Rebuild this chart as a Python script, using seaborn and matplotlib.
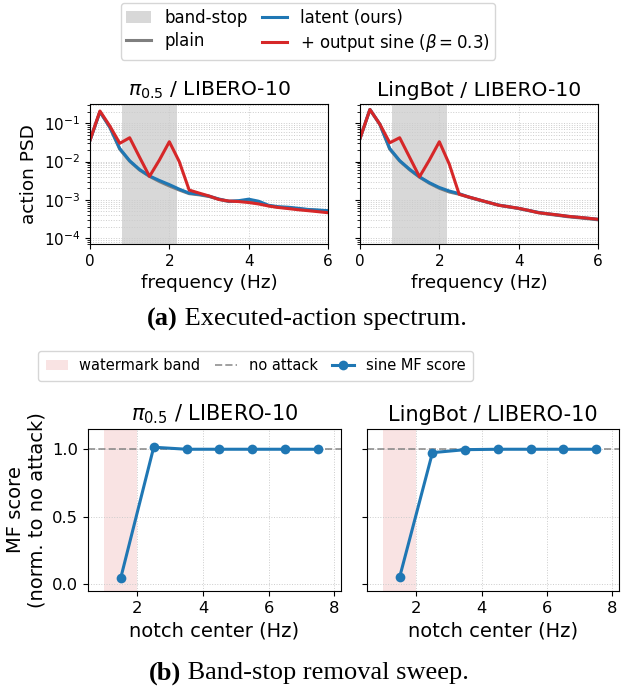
import numpy as np
import pandas as pd
import matplotlib
matplotlib.use("Agg")
import matplotlib.pyplot as plt
import seaborn as sns
from matplotlib.patches import Patch
from matplotlib.lines import Line2D

plt.rcParams["font.family"] = ["DejaVu Sans"]
plt.rcParams["mathtext.fontset"] = "dejavusans"

# ---- (a) executed-action spectrum data ----
freq = [0.0, 0.25, 0.5, 0.75, 1.0, 1.25, 1.5, 1.75, 2.0, 2.25, 2.5, 2.75, 3.0,
        3.25, 3.5, 3.75, 4.0, 4.25, 4.5, 4.75, 5.0, 5.25, 5.5, 5.75, 6.0]

pi05_plain = [0.036, 0.20, 0.078, 0.021, 0.0102, 0.0060, 0.0041, 0.0030, 0.0023, 0.0018,
              0.00145, 0.00135, 0.00122, 0.00103, 0.00090, 0.00092, 0.00098, 0.00088,
              0.00070, 0.00064, 0.00062, 0.00058, 0.00055, 0.00053, 0.00051]
pi05_latent = [0.036, 0.20, 0.080, 0.022, 0.0105, 0.0062, 0.0042, 0.0032, 0.0025, 0.0019,
               0.00150, 0.00140, 0.00125, 0.00105, 0.00092, 0.00095, 0.00104, 0.00092,
               0.00072, 0.00066, 0.00064, 0.00060, 0.00056, 0.00054, 0.00052]
pi05_sine = [0.036, 0.21, 0.085, 0.030, 0.042, 0.013, 0.0041, 0.011, 0.033, 0.010,
             0.0018, 0.0015, 0.00126, 0.00102, 0.00093, 0.00090, 0.00085, 0.00078,
             0.00069, 0.00063, 0.00059, 0.00055, 0.00052, 0.00049, 0.00046]

lingbot_plain = [0.040, 0.23, 0.093, 0.021, 0.0103, 0.0061, 0.0039, 0.0027, 0.0020, 0.0016,
                 0.00140, 0.00116, 0.00098, 0.00084, 0.00072, 0.00065, 0.00059, 0.00052,
                 0.00046, 0.00042, 0.00039, 0.00036, 0.00034, 0.00032, 0.00030]
lingbot_latent = [0.040, 0.23, 0.095, 0.022, 0.0106, 0.0063, 0.0040, 0.0028, 0.0021, 0.0017,
                  0.00145, 0.00118, 0.00100, 0.00085, 0.00073, 0.00066, 0.00060, 0.00053,
                  0.00047, 0.00043, 0.00040, 0.00037, 0.00035, 0.00033, 0.00031]
lingbot_sine = [0.040, 0.23, 0.095, 0.031, 0.042, 0.013, 0.0040, 0.011, 0.033, 0.0086,
                0.0014, 0.00118, 0.00100, 0.00085, 0.00072, 0.00066, 0.00060, 0.00053,
                0.00046, 0.00043, 0.00040, 0.00037, 0.00035, 0.00033, 0.00031]

bandstop = (0.8, 2.2)

# ---- (b) band-stop removal sweep data ----
notch_center = [1.5, 2.5, 3.5, 4.5, 5.5, 6.5, 7.5]
pi05_mf = [0.05, 1.015, 1.0, 1.0, 1.0, 1.0, 1.0]
lingbot_mf = [0.055, 0.975, 0.997, 1.0, 1.0, 1.0, 1.0]
watermark_band = (1.0, 2.0)

models = [r"$\pi_{0.5}$ / LIBERO-10", "LingBot / LIBERO-10"]

BLUE = "#1f77b4"
RED = "#d62728"
GRAY = "#7f7f7f"

# panel (a) text sizes
A_TICK, A_LABEL, A_TITLE, A_LEG = 11, 13.3, 14.6, 12
# panel (b) text sizes
B_TICK, B_LABEL, B_TITLE, B_LEG = 11.8, 14, 15, 10.5

W, H = 631, 690
fig = plt.figure(figsize=(W / 100, H / 100), dpi=100)


def box(x0, y0, x1, y1):
    """Pixel box (top-left origin) -> figure fraction rect."""
    return [x0 / W, 1 - y1 / H, (x1 - x0) / W, (y1 - y0) / H]


ax_a = [fig.add_axes(box(90, 104, 328, 244)), fig.add_axes(box(360, 104, 598, 244))]
ax_b = [fig.add_axes(box(88, 429, 341, 591)), fig.add_axes(box(367, 429, 619, 591))]

spec_sets = [(pi05_plain, pi05_latent, pi05_sine),
             (lingbot_plain, lingbot_latent, lingbot_sine)]

for i, ax in enumerate(ax_a):
    plain, latent, sine = spec_sets[i]
    df = pd.DataFrame({
        "freq": freq * 3,
        "psd": plain + latent + sine,
        "series": ["plain"] * len(freq) + ["latent"] * len(freq) + ["sine"] * len(freq),
    })
    ax.axvspan(*bandstop, color="gray", alpha=0.3, lw=0, zorder=0)
    sns.lineplot(data=df, x="freq", y="psd", hue="series",
                 palette={"plain": GRAY, "latent": BLUE, "sine": RED},
                 hue_order=["plain", "latent", "sine"],
                 estimator=None, linewidth=2.2, legend=False, ax=ax)
    ax.set_yscale("log")
    ax.set_xlim(0, 6)
    ax.set_ylim(7e-5, 0.32)
    ax.set_xticks([0, 2, 4, 6])
    ax.set_yticks([1e-4, 1e-3, 1e-2, 1e-1])
    ax.grid(True, which="both", axis="y", ls=":", lw=0.7, color="#cccccc")
    ax.grid(True, which="major", axis="x", ls=":", lw=0.7, color="#cccccc")
    ax.set_axisbelow(True)
    ax.set_title(models[i], fontsize=A_TITLE, pad=6)
    ax.set_xlabel("frequency (Hz)", fontsize=A_LABEL)
    ax.tick_params(labelsize=A_TICK)
    if i == 0:
        ax.set_ylabel("action PSD", fontsize=A_LABEL)
    else:
        ax.set_ylabel("")
        ax.tick_params(labelleft=False, which="both")

mf_sets = [pi05_mf, lingbot_mf]
for i, ax in enumerate(ax_b):
    ax.axvspan(*watermark_band, color=RED, alpha=0.13, lw=0, zorder=0)
    ax.axhline(1.0, color="gray", ls="--", lw=1.4, alpha=0.75, zorder=1)
    df = pd.DataFrame({"center": notch_center, "score": mf_sets[i]})
    sns.lineplot(data=df, x="center", y="score", color=BLUE, marker="o",
                 markersize=7, markeredgewidth=0, linewidth=2.2,
                 estimator=None, ax=ax, zorder=3)
    ax.set_xlim(0.5, 8.2)
    ax.set_ylim(-0.05, 1.15)
    ax.set_xticks([2, 4, 6, 8])
    ax.set_yticks([0.0, 0.5, 1.0])
    ax.grid(True, ls=":", lw=0.7, color="#cccccc")
    ax.set_axisbelow(True)
    ax.set_title(models[i], fontsize=B_TITLE, pad=6)
    ax.set_xlabel("notch center (Hz)", fontsize=B_LABEL)
    ax.tick_params(labelsize=B_TICK)
    if i == 0:
        ax.set_ylabel("MF score\n(norm. to no attack)", fontsize=B_LABEL)
    else:
        ax.set_ylabel("")
        ax.tick_params(labelleft=False)

# legends
leg_a = [Patch(facecolor="gray", alpha=0.3, edgecolor="none", label="band-stop"),
         Line2D([], [], color=GRAY, lw=2.2, label="plain"),
         Line2D([], [], color=BLUE, lw=2.2, label="latent (ours)"),
         Line2D([], [], color=RED, lw=2.2, label=r"+ output sine ($\beta = 0.3$)")]
fig.legend(handles=leg_a, ncol=2, loc="upper center", fontsize=A_LEG,
           bbox_to_anchor=(308 / W, 1 - 3 / H), borderaxespad=0,
           handlelength=1.5, columnspacing=0.8, labelspacing=0.3,
           borderpad=0.35, handletextpad=0.8)

leg_b = [Patch(facecolor=RED, alpha=0.13, edgecolor="none", label="watermark band"),
         Line2D([], [], color="gray", ls="--", lw=1.4, alpha=0.75, label="no attack"),
         Line2D([], [], color=BLUE, lw=2.2, marker="o", markersize=7,
                markeredgewidth=0, label="sine MF score")]
fig.legend(handles=leg_b, ncol=3, loc="upper center", fontsize=B_LEG,
           bbox_to_anchor=(255.5 / W, 1 - 351 / H), borderaxespad=0,
           handlelength=1.5, columnspacing=1.0, borderpad=0.5, handletextpad=0.8)

# sub-captions: bold tag followed by regular text
renderer = fig.canvas.get_renderer()
CAP_FS = 19


def caption(tag, text, cx, cy):
    t1 = fig.text(0, 0, tag, fontsize=CAP_FS, family="Liberation Serif",
                  weight="bold", va="center", ha="left")
    t2 = fig.text(0, 0, " " + text, fontsize=CAP_FS, family="Liberation Serif",
                  va="center", ha="left")
    w1 = t1.get_window_extent(renderer).width
    w2 = t2.get_window_extent(renderer).width
    x0 = cx - (w1 + w2) / 2
    t1.set_position((x0 / W, 1 - cy / H))
    t2.set_position(((x0 + w1) / W, 1 - cy / H))


caption("(a)", "Executed-action spectrum.", 307, 319)
caption("(b)", "Band-stop removal sweep.", 309, 673)

fig.savefig("out.png", dpi=100)
